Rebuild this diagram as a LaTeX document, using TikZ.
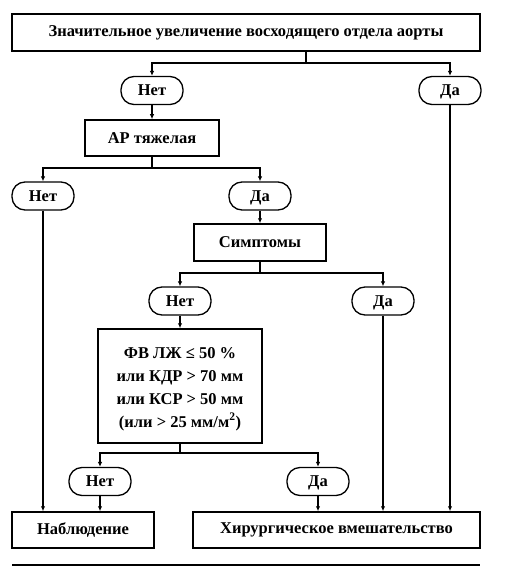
\documentclass[tikz,border=0pt]{standalone}
\usepackage{fontspec}
\setmainfont{Liberation Serif}
\usetikzlibrary{arrows.meta}
\begin{document}
\begin{tikzpicture}[x=1pt,y=-1pt,
  every node/.style={font=\fontsize{16.5}{23}\selectfont\bfseries},
  boxnode/.style={draw,line width=1.5pt,inner sep=0pt,align=center},
  oval/.style={draw,line width=1.3pt,rounded corners=13pt,inner sep=0pt,minimum width=62pt,minimum height=28pt,text height=11pt,text depth=1pt},
  conn/.style={line width=1.2pt},
  arr/.style={line width=1.2pt,-{Latex[length=5pt,width=4.5pt]}}]
\useasboundingbox (0,0) rectangle (510,575);
\node[boxnode,minimum width=468pt,minimum height=37pt] (top) at (246,32.5) {Значительное увеличение восходящего отдела аорты};
\node[oval] (n1) at (152,90.5) {Нет};
\node[oval] (d1) at (450,90.5) {Да};
\node[boxnode,minimum width=134pt,minimum height=36pt] (ar) at (152,138) {АР тяжелая};
\node[oval] (n2) at (43,196) {Нет};
\node[oval] (d2) at (260,196) {Да};
\node[boxnode,minimum width=132pt,minimum height=37pt] (sym) at (260,242.5) {Симптомы};
\node[oval] (n3) at (180,301) {Нет};
\node[oval] (d3) at (383,301) {Да};
\node[boxnode,minimum width=164pt,minimum height=114pt] (fv) at (180,386) {\rule{0pt}{17pt}ФВ ЛЖ ≤ 50 \%\\или КДР > 70 мм\\или КСР > 50 мм\\(или > 25 мм/м\textsuperscript{2})};
\node[oval] (n4) at (100,481.5) {Нет};
\node[oval] (d4) at (318,481.5) {Да};
\node[boxnode,minimum width=142pt,minimum height=36pt] (obs) at (83,530) {Наблюдение};
\node[boxnode,minimum width=287pt,minimum height=36pt] (sur) at (336.5,530) {Хирургическое вмешательство};
\coordinate (j1) at (306,63);
\coordinate (j2) at (152,168);
\coordinate (j3) at (260,273);
\coordinate (j4) at (180,453);
\coordinate (bl) at (12,565);
\coordinate (br) at (480,565);
\draw[conn] (top.south -| j1) -- (j1);
\draw[arr] (j1) -| (n1.north);
\draw[arr] (j1) -| (d1.north);
\draw[arr] (n1.south) -- (ar.north);
\draw[arr] (d1.south) -- (d1.south |- sur.north);
\draw[conn] (ar.south) -- (j2);
\draw[arr] (j2) -| (n2.north);
\draw[arr] (j2) -| (d2.north);
\draw[arr] (n2.south) -- (n2.south |- obs.north);
\draw[arr] (d2.south) -- (sym.north);
\draw[conn] (sym.south) -- (j3);
\draw[arr] (j3) -| (n3.north);
\draw[arr] (j3) -| (d3.north);
\draw[arr] (n3.south) -- (fv.north);
\draw[arr] (d3.south) -- (d3.south |- sur.north);
\draw[conn] (fv.south) -- (j4);
\draw[arr] (j4) -| (n4.north);
\draw[arr] (j4) -| (d4.north);
\draw[arr] (n4.south) -- (n4.south |- obs.north);
\draw[arr] (d4.south) -- (d4.south |- sur.north);
\draw[line width=1.5pt] (bl) -- (br);
\end{tikzpicture}
\end{document}
